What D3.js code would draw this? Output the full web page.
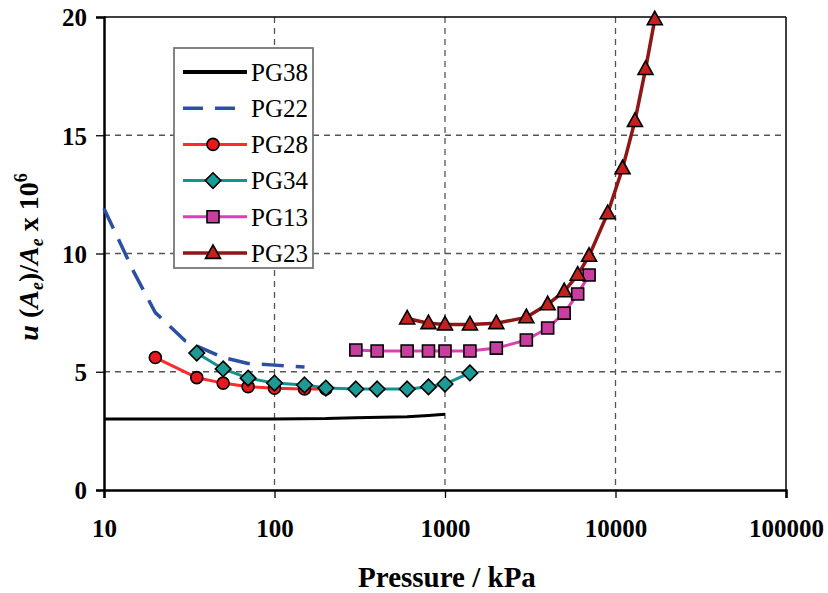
<!DOCTYPE html>
<html>
<head>
<meta charset="utf-8">
<script src="https://cdn.jsdelivr.net/npm/d3@7"></script>
<style>
  body { margin: 0; background: #fff; }
  svg text { font-family: "Liberation Serif", "Times New Roman", serif; }
</style>
</head>
<body>
<svg id="chart" width="828" height="593"></svg>
<script>
// data (pressure in kPa, value x 10^6)
var pg38P = [10, 100, 200, 300, 600, 800, 1000];
var pg38V = [3.0, 3.0, 3.02, 3.06, 3.1, 3.15, 3.2];

var pg22P = [10, 15, 20, 30, 50, 70, 100, 150];
var pg22V = [11.9, 9.2, 7.5, 6.3, 5.6, 5.35, 5.28, 5.2];

var pg28P = [20, 35, 50, 70, 100, 150, 200];
var pg28V = [5.6, 4.75, 4.52, 4.37, 4.3, 4.27, 4.27];

var pg34P = [35, 50, 70, 100, 150, 200, 300, 400, 600, 800, 1000, 1400];
var pg34V = [5.79, 5.12, 4.73, 4.52, 4.44, 4.31, 4.27, 4.27, 4.27, 4.36, 4.48, 4.95];

var pg13P = [300, 400, 600, 800, 1000, 1400, 2000, 3000, 4000, 5000, 6000, 7000];
var pg13V = [5.92, 5.88, 5.88, 5.88, 5.88, 5.88, 6.0, 6.34, 6.85, 7.48, 8.29, 9.09];

var pg23P = [600, 800, 1000, 1400, 2000, 3000, 4000, 5000, 6000, 7000, 9000, 11000, 13000, 15000, 17000];
var pg23V = [7.25, 7.05, 7.0, 7.0, 7.05, 7.3, 7.85, 8.4, 9.1, 9.9, 11.7, 13.6, 15.6, 17.8, 19.9];

var xTicks = [10, 100, 1000, 10000, 100000];
var yTicks = [0, 5, 10, 15, 20];
var seriesNames = ["PG38", "PG22", "PG28", "PG34", "PG13", "PG23"];

function zip(p, v) { return p.map(function(d, i) { return {p: d, v: v[i]}; }); }

var series = [
  {name: "PG38", pts: zip(pg38P, pg38V), line: "#000", width: 3, dash: null, marker: null},
  {name: "PG22", pts: zip(pg22P, pg22V), line: "#2b4fa3", width: 3.5, dash: "22,12", marker: null},
  {name: "PG28", pts: zip(pg28P, pg28V), line: "#ff2a2a", width: 3, dash: null, marker: "circle", fill: "#e8191e"},
  {name: "PG34", pts: zip(pg34P, pg34V), line: "#12938f", width: 3, dash: null, marker: "diamond", fill: "#1c9a95"},
  {name: "PG13", pts: zip(pg13P, pg13V), line: "#d940b3", width: 3, dash: null, marker: "square", fill: "#c93d9f"},
  {name: "PG23", pts: zip(pg23P, pg23V), line: "#8e1616", width: 3.5, dash: null, marker: "triangle", fill: "#c3201e"}
];

var svg = d3.select("#chart");
var plotL = 104, plotR = 786, plotT = 17, plotB = 490;

var x = d3.scaleLog().domain([10, 100000]).range([plotL, plotR]);
var y = d3.scaleLinear().domain([0, 20]).range([plotB, plotT]);

// grid
var grid = svg.append("g");
grid.selectAll("line.gx")
    .data(xTicks.slice(1, -1))
  .enter().append("line")
    .attr("x1", function(d) { return x(d); })
    .attr("x2", function(d) { return x(d); })
    .attr("y1", plotT).attr("y2", plotB)
    .attr("stroke", "#555").attr("stroke-width", 1.3)
    .attr("stroke-dasharray", "6,5");
grid.selectAll("line.gy")
    .data(yTicks.slice(1, -1))
  .enter().append("line")
    .attr("y1", function(d) { return y(d); })
    .attr("y2", function(d) { return y(d); })
    .attr("x1", plotL).attr("x2", plotR)
    .attr("stroke", "#555").attr("stroke-width", 1.3)
    .attr("stroke-dasharray", "6,5");

// frame
svg.append("line").attr("x1", plotL).attr("x2", plotR).attr("y1", plotT).attr("y2", plotT)
    .attr("stroke", "#000").attr("stroke-width", 1.5);
svg.append("line").attr("x1", plotR).attr("x2", plotR).attr("y1", plotT).attr("y2", plotB)
    .attr("stroke", "#000").attr("stroke-width", 1.5);

// axes
var xAxis = svg.append("g")
    .attr("transform", "translate(0," + plotB + ")")
    .call(d3.axisBottom(x).tickValues(xTicks).tickFormat(d3.format("d")).tickSize(8).tickPadding(21));
var yAxis = svg.append("g")
    .attr("transform", "translate(" + plotL + ",0)")
    .call(d3.axisLeft(y).tickValues(yTicks).tickSize(8).tickPadding(9));

[xAxis, yAxis].forEach(function(a) {
  a.select(".domain").attr("stroke", "#000").attr("stroke-width", 2.5);
  a.selectAll(".tick line").attr("stroke", "#000").attr("stroke-width", 1.3);
  a.selectAll(".tick text")
      .attr("font-family", "Liberation Serif")
      .attr("font-weight", "bold")
      .attr("font-size", 25)
      .attr("fill", "#000");
});
yAxis.selectAll(".tick text").attr("dy", "0.35em");

// series
var lineGen = d3.line()
    .x(function(d) { return x(d.p); })
    .y(function(d) { return y(d.v); });

function markerPath(type, s) {
  if (type === "circle") return d3.symbol().type(d3.symbolCircle).size(Math.PI * s * s)();
  if (type === "square") return d3.symbol().type(d3.symbolSquare).size(s * s * 4)();
  if (type === "diamond") return "M0," + (-s * 1.3) + "L" + (s * 1.3) + ",0L0," + (s * 1.3) + "L" + (-s * 1.3) + ",0Z";
  if (type === "triangle") return "M0," + (-s * 1.35) + "L" + (s * 1.25) + "," + (s * 0.9) + "L" + (-s * 1.25) + "," + (s * 0.9) + "Z";
}

var plot = svg.append("g");
series.forEach(function(s) {
  plot.append("path")
      .datum(s.pts)
      .attr("d", lineGen)
      .attr("fill", "none")
      .attr("stroke", s.line)
      .attr("stroke-width", s.width)
      .attr("stroke-dasharray", s.dash)
      .attr("stroke-linejoin", "round");
});
series.forEach(function(s) {
  if (!s.marker) return;
  plot.selectAll(null)
      .data(s.pts)
    .enter().append("path")
      .attr("transform", function(d) { return "translate(" + x(d.p) + "," + y(d.v) + ")"; })
      .attr("d", markerPath(s.marker, 6))
      .attr("fill", s.fill)
      .attr("stroke", "#000")
      .attr("stroke-width", 1.6);
});

// legend
var legend = svg.append("g");
legend.append("rect")
    .attr("x", 174).attr("y", 48).attr("width", 139).attr("height", 220)
    .attr("fill", "#fff").attr("stroke", "#777").attr("stroke-width", 1.8);
var ly = d3.scalePoint().domain(seriesNames).range([72, 253]);
series.forEach(function(s) {
  var g = legend.append("g").attr("transform", "translate(0," + ly(s.name) + ")");
  g.append("line")
      .attr("x1", 183).attr("x2", 247)
      .attr("stroke", s.line)
      .attr("stroke-width", s.name === "PG38" ? 4 : s.width)
      .attr("stroke-dasharray", s.name === "PG22" ? "20,12" : null);
  if (s.marker) {
    g.append("path")
        .attr("transform", "translate(213,0)")
        .attr("d", markerPath(s.marker, 6))
        .attr("fill", s.fill)
        .attr("stroke", "#000")
        .attr("stroke-width", 1.6);
  }
  g.append("text")
      .attr("x", 251).attr("dy", "0.35em")
      .attr("font-size", 25)
      .text(s.name);
});

// axis titles
svg.append("text")
    .attr("x", (plotL + plotR) / 2 + 2).attr("y", 587)
    .attr("text-anchor", "middle")
    .attr("font-weight", "bold")
    .attr("font-size", 29)
    .text("Pressure / kPa");

var yt = svg.append("text")
    .attr("transform", "translate(38,257) rotate(-90)")
    .attr("text-anchor", "middle")
    .attr("font-weight", "bold")
    .attr("font-size", 28);
yt.append("tspan").attr("font-style", "italic").text("u");
yt.append("tspan").text(" (");
yt.append("tspan").attr("font-style", "italic").text("A");
yt.append("tspan").attr("font-style", "italic").attr("font-size", 18).attr("dy", 5).text("e");
yt.append("tspan").attr("dy", -5).text(")/");
yt.append("tspan").attr("font-style", "italic").text("A");
yt.append("tspan").attr("font-style", "italic").attr("font-size", 18).attr("dy", 5).text("e");
yt.append("tspan").attr("dy", -5).text(" x 10");
yt.append("tspan").attr("font-size", 18).attr("dy", -11).text("6");
</script>
</body>
</html>
